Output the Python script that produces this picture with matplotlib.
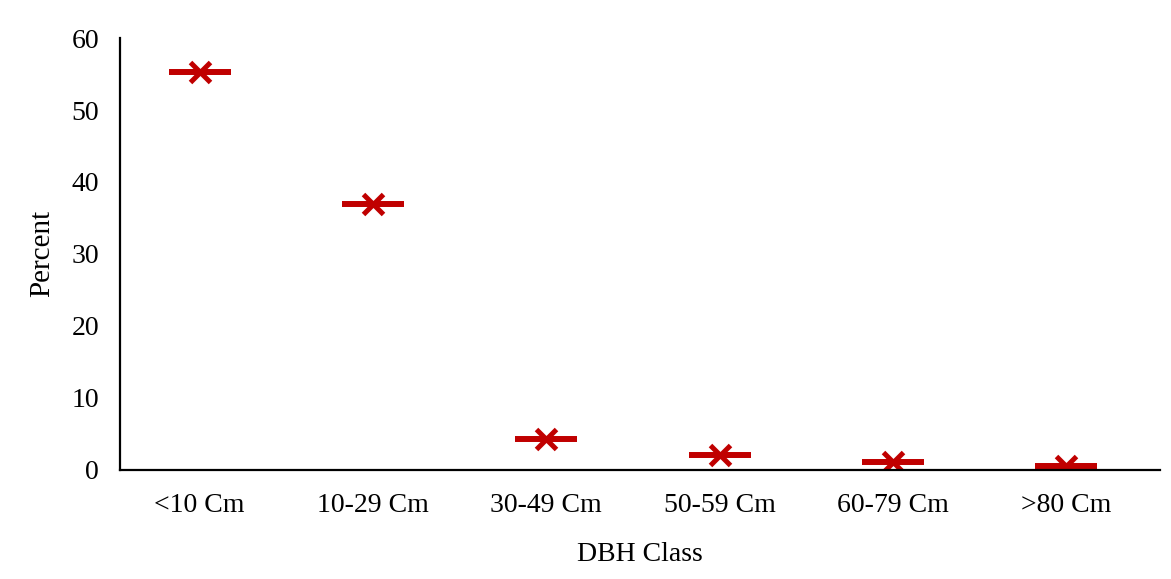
import matplotlib
matplotlib.use('Agg')
import matplotlib.pyplot as plt

classes = ['<10 Cm', '10-29 Cm', '30-49 Cm', '50-59 Cm', '60-79 Cm', '>80 Cm']
percent = [55.3, 36.9, 4.2, 2.05, 1.0, 0.45]

plt.rcParams['font.family'] = ['Liberation Serif', 'DejaVu Serif']

fig = plt.figure(figsize=(11.71, 5.79), dpi=100)
ax = fig.add_axes([0.1025, 0.189, 0.888, 0.745])
x = range(len(classes))
red = '#C00000'
ax.plot(x, percent, linestyle='none', marker='_', markersize=45, mew=4.3, color=red)
ax.plot(x, percent, linestyle='none', marker='x', markersize=14, mew=3.6, color=red)

ax.set_xlim(-0.46, len(classes) - 0.46)
ax.set_ylim(0, 60)
ax.set_yticks(range(0, 61, 10))
ax.set_xticks(list(x))
ax.set_xticklabels(classes)
ax.tick_params(axis='both', length=0, labelsize=20)
ax.tick_params(axis='x', pad=17)
ax.tick_params(axis='y', pad=15)
for s in ['top', 'right']:
    ax.spines[s].set_visible(False)
for s in ['left', 'bottom']:
    ax.spines[s].set_linewidth(1.6)
    ax.spines[s].set_color('black')
ax.set_xlabel('DBH Class', fontsize=20, labelpad=17)
ax.set_ylabel('Percent', fontsize=21, labelpad=12)

fig.savefig('out.png', dpi=100)
